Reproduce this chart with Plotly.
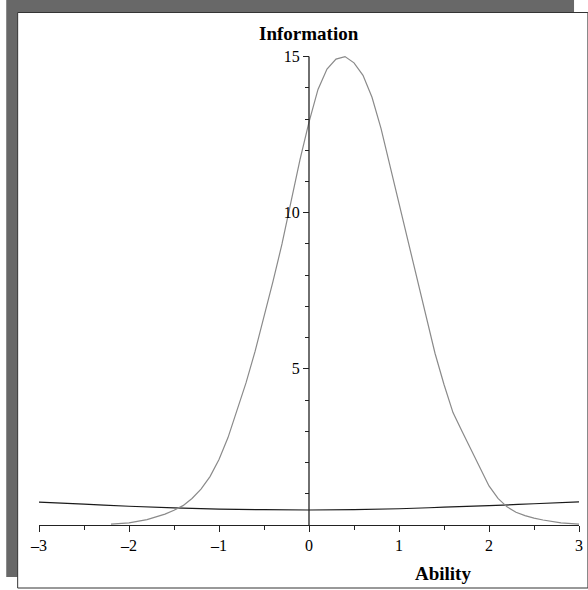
import plotly.graph_objects as go

# Test information curve
ability_info = [-2.2, -2.0, -1.8, -1.6, -1.5, -1.4, -1.3, -1.2, -1.1, -1.0, -0.9, -0.8, -0.7,
                -0.6, -0.5, -0.4, -0.3, -0.2, -0.1, 0.0, 0.1, 0.2, 0.3, 0.4, 0.5, 0.6,
                0.7, 0.8, 0.9, 1.0, 1.1, 1.2, 1.3, 1.4, 1.5, 1.6, 1.7, 1.8, 1.9, 2.0,
                2.1, 2.2, 2.3, 2.4, 2.5, 2.6, 2.8, 3.0]
information = [0.03, 0.07, 0.17, 0.35, 0.47, 0.62, 0.85, 1.15, 1.55, 2.1, 2.8, 3.65, 4.55,
               5.55, 6.65, 7.8, 9.0, 10.4, 11.7, 12.9, 13.95, 14.6, 14.92, 15.0, 14.8, 14.4,
               13.7, 12.7, 11.5, 10.3, 9.0, 7.8, 6.6, 5.5, 4.5, 3.6, 3.0, 2.42, 1.8, 1.25,
               0.85, 0.58, 0.41, 0.3, 0.22, 0.16, 0.07, 0.03]

# Flat curve
ability_se = [-3.0, -2.5, -2.0, -1.5, -1.0, -0.5, 0.0, 0.5, 1.0, 1.5, 2.0, 2.5, 3.0]
se_values = [0.73, 0.67, 0.60, 0.55, 0.51, 0.49, 0.48, 0.49, 0.52, 0.57, 0.62, 0.68, 0.74]

x_ticks = [-3, -2, -1, 0, 1, 2, 3]
y_ticks = [5, 10, 15]

W, H = 588, 590
ML, MR, MT, MB = 39, 5, 41, 65
PW, PH = W - ML - MR, H - MT - MB


def px(x):
    return (x - ML) / PW


def py(y):
    return (H - MB - y) / PH


fig = go.Figure()
fig.add_trace(go.Scatter(x=ability_se, y=se_values, mode="lines", line_shape="spline",
                         line=dict(color="#1a1a1a", width=1.2), showlegend=False))
fig.add_trace(go.Scatter(x=ability_info, y=information, mode="lines",
                         line=dict(color="#8a8a8a", width=1.2), showlegend=False))

shapes = [
    dict(type="rect", xref="paper", yref="paper", x0=px(6), x1=px(578), y0=py(577), y1=py(0),
         fillcolor="#686868", line=dict(width=0), layer="below"),
    dict(type="rect", xref="paper", yref="paper", x0=px(17.5), x1=px(592), y0=py(588), y1=py(12.5),
         fillcolor="white", line=dict(color="#333333", width=1), layer="below"),
    dict(type="line", xref="x", yref="y", x0=0, x1=0, y0=0, y1=15,
         line=dict(color="#222222", width=1.3)),
]

fig.update_layout(
    width=W, height=H,
    margin=dict(l=ML, r=MR, t=MT, b=MB),
    paper_bgcolor="white", plot_bgcolor="rgba(0,0,0,0)",
    shapes=shapes,
    font=dict(family="Liberation Serif", color="black"),
    xaxis=dict(range=[-3, 3], tickvals=x_ticks, ticktext=[str(v).replace("-", "\u2013") for v in x_ticks],
               ticks="outside", ticklen=6, tickwidth=1.3, tickcolor="#222222",
               minor=dict(dtick=0.5, ticks="outside", ticklen=4, tickwidth=1.3, tickcolor="#222222"),
               showline=True, linecolor="#222222", linewidth=1.3,
               showgrid=False, zeroline=False, tickfont=dict(size=16, family="Liberation Serif")),
    yaxis=dict(range=[0, 15.5], tickvals=y_ticks, anchor="free", position=0.5,
               ticks="outside", ticklen=6, tickwidth=1.3, tickcolor="#222222",
               minor=dict(dtick=1, ticks="outside", ticklen=4, tickwidth=1.3, tickcolor="#222222"),
               showline=False, showgrid=False, zeroline=False,
               tickfont=dict(size=16, family="Liberation Serif")),
    annotations=[
        dict(text="<b>Information</b>", xref="x", yref="paper", x=0, y=py(33),
             showarrow=False, xanchor="center", yanchor="middle",
             font=dict(size=19, family="Liberation Serif", color="black")),
        dict(text="<b>Ability</b>", xref="paper", yref="paper", x=px(446), y=py(573),
             showarrow=False, xanchor="center", yanchor="middle",
             font=dict(size=19, family="Liberation Serif", color="black")),
    ],
)

fig.write_html("out.html", config={"displayModeBar": False},
               post_script="document.body.style.margin='0';document.body.style.overflow='hidden';"
                           "document.documentElement.style.overflow='hidden';")
